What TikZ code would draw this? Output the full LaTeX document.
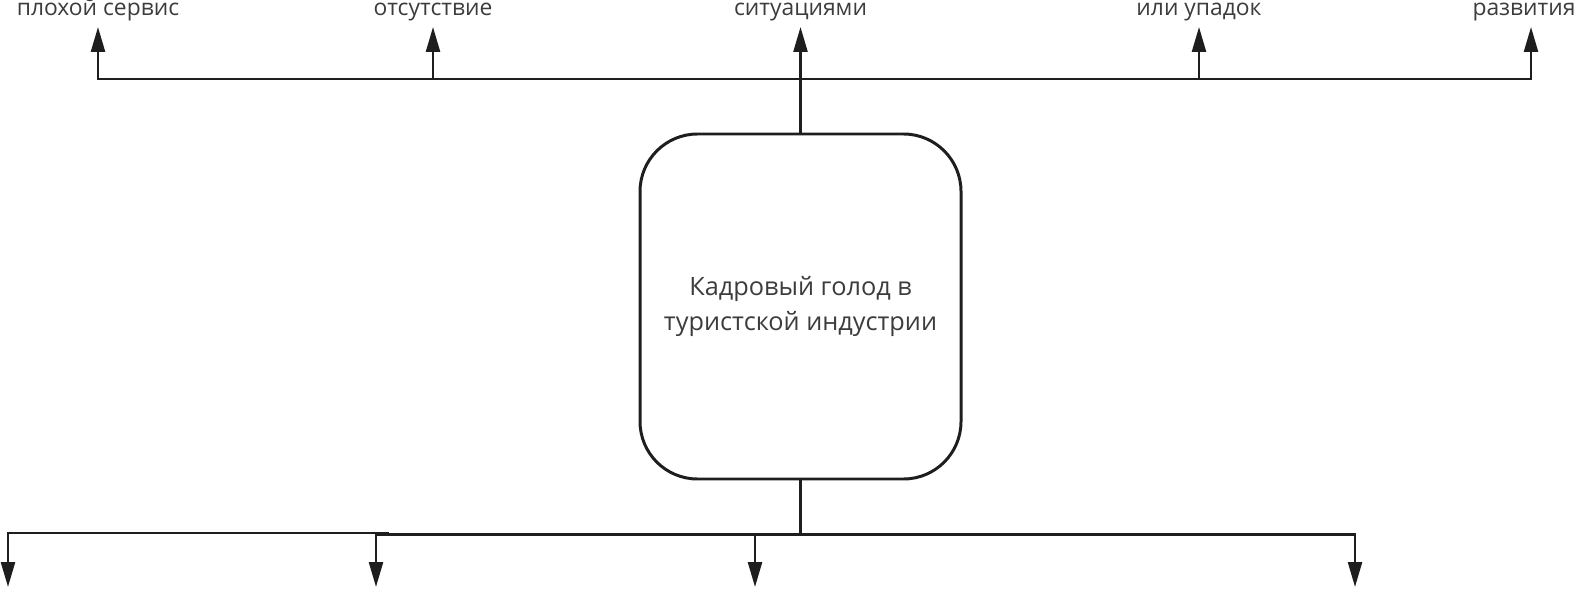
\documentclass[tikz,border=0pt]{standalone}
\usepackage{fontspec}
\setmainfont{Open Sans}
\usetikzlibrary{arrows.meta}

\begin{document}
\begin{tikzpicture}[
    flow/.style={draw=lineColour, line width=1.4pt, -{Triangle[length=0.5cm, width=0.28cm]}},
    hungerbox/.style={draw=lineColour, line width=1.7pt, rounded corners=1.15cm,
        minimum width=6.42cm, minimum height=6.9cm, align=center,
        text=textColour, font=\fontsize{14.4}{19.5}\selectfont},
    outlabel/.style={anchor=base, text=textColour, font=\fontsize{13}{19.3}\selectfont}
]
    \definecolor{lineColour}{HTML}{1E1E1E}
    \definecolor{textColour}{HTML}{3C3C3C}

    \useasboundingbox (0,0) rectangle (31.56,11.8);

    % Central box
    \node[hungerbox] (hunger) at (16.01,5.67) {Кадровый голод в\\туристской индустрии};

    % Top consequences
    \coordinate (topbus) at (16.01,10.22);
    \foreach \name/\x/\lx/\txt in {A/1.96/1.96/плохой сервис, B/8.66/8.66/отсутствие, D/23.98/23.98/или упадок, E/30.62/30.48/развития} {
        \coordinate (up\name) at (\x,11.26);
        \draw[flow] (hunger.north) -- (hunger.north |- topbus) -| (up\name);
        \node[outlabel] (lbl\name) at (\lx,11.48) {\txt};
    }
    \coordinate (upC) at (16.01,11.26);
    \draw[flow] (hunger.north) -- (upC);
    \node[outlabel] (lblC) at (16.01,11.48) {ситуациями};

    % Bottom consequences
    \coordinate (botbus) at (16.01,1.11);
    \foreach \name/\x in {B/7.52, C/15.1, D/27.1} {
        \coordinate (down\name) at (\x,0.06);
        \draw[flow] (hunger.south) -- (hunger.south |- botbus) -| (down\name);
    }
    \coordinate (jogB) at (7.76,1.11);
    \coordinate (jogA) at (7.76,1.14);
    \coordinate (downA) at (0.16,0.06);
    \draw[flow] (hunger.south) |- (jogB) -- (jogA) -| (downA);

\end{tikzpicture}
\end{document}
